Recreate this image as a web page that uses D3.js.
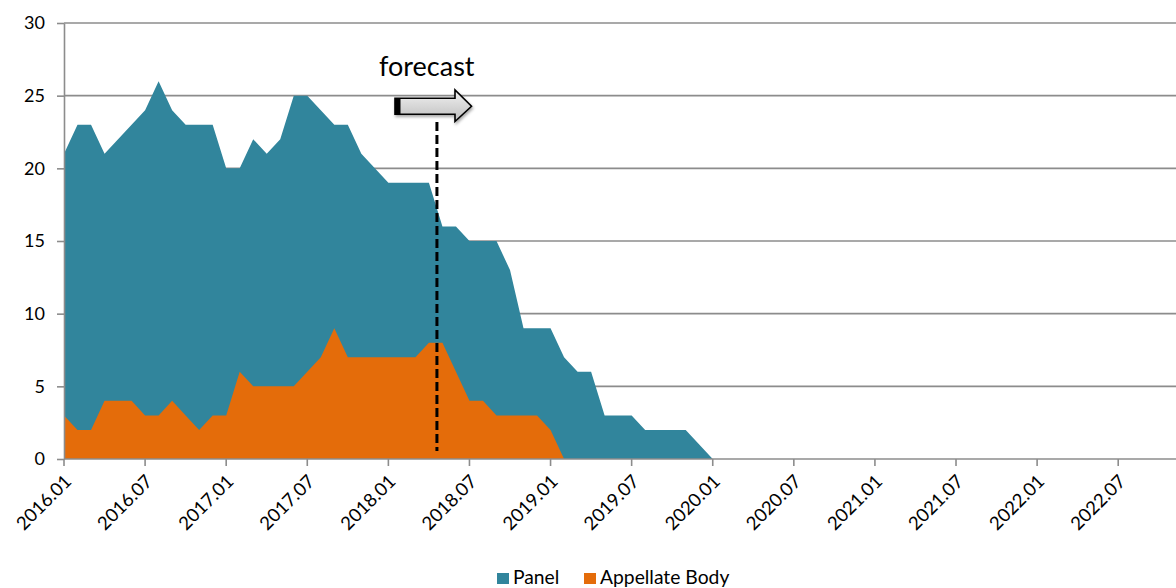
<!DOCTYPE html>
<html>
<head>
<meta charset="utf-8">
<script src="https://cdn.jsdelivr.net/npm/d3@7"></script>
<style>
  html, body { margin: 0; padding: 0; background: #fff; }
  svg { display: block; font-family: Lato, "Open Sans", sans-serif; }
</style>
</head>
<body>
<svg id="chart" width="1176" height="588"></svg>
<script>
// Monthly counts starting 2016.01 (one value per month)
const startYear = 2016;
const panelCounts = [21, 23, 23, 21, 22, 23, 24, 26, 24, 23, 23, 23,
                     20, 20, 22, 21, 22, 25, 25, 24, 23, 23, 21, 20,
                     19, 19, 19, 19, 16, 16, 15, 15, 15, 13, 9, 9,
                     9, 7, 6, 6, 3, 3, 3, 2, 2, 2, 2, 1,
                     0];
const appellateCounts = [3, 2, 2, 4, 4, 4, 3, 3, 4, 3, 2, 3,
                         3, 6, 5, 5, 5, 5, 6, 7, 9, 7, 7, 7,
                         7, 7, 7, 8, 8, 6, 4, 4, 3, 3, 3, 3,
                         2, 0];
const seriesNames = ["Panel", "Appellate Body"];
const seriesColors = ["#31859C", "#E46C0A"];
const xTickLabels = ["2016.01", "2016.07", "2017.01", "2017.07", "2018.01", "2018.07",
                     "2019.01", "2019.07", "2020.01", "2020.07", "2021.01", "2021.07",
                     "2022.01", "2022.07"];
const yTickValues = [0, 5, 10, 15, 20, 25, 30];
const forecastLabel = "forecast";
const forecastStart = "2018.05";

// month label "YYYY.MM" -> index from the first month
const monthIndex = s => {
  const [yr, m] = s.split(".").map(Number);
  return (yr - startYear) * 12 + (m - 1);
};

const svg = d3.select("#chart");
const W = 1176;
const plotLeft = 64, plotBottom = 459, plotTop = 23;

const x = d3.scaleLinear().domain([0, 78]).range([plotLeft, 1118.2]);
const y = d3.scaleLinear().domain([0, 30]).range([plotBottom, plotTop]);

// horizontal gridlines
svg.append("g")
  .selectAll("line")
  .data(yTickValues.filter(v => v > 0))
  .join("line")
  .attr("x1", plotLeft).attr("x2", W)
  .attr("y1", d => y(d)).attr("y2", d => y(d))
  .attr("stroke", "#8c8c8c").attr("stroke-width", 1.6);

// areas: Panel behind, Appellate Body in front
const area = d3.area()
  .x((d, i) => x(i))
  .y0(y(0))
  .y1(d => y(d));

svg.append("path")
  .datum(panelCounts)
  .attr("d", area)
  .attr("fill", seriesColors[0]);

svg.append("path")
  .datum(appellateCounts)
  .attr("d", area)
  .attr("fill", seriesColors[1]);

// y axis
const yAxis = svg.append("g")
  .attr("transform", `translate(${plotLeft},0)`)
  .call(d3.axisLeft(y).tickValues(yTickValues).tickSize(7).tickPadding(12).tickSizeOuter(0));
yAxis.select(".domain").attr("stroke", "#8c8c8c").attr("stroke-width", 1.6);
yAxis.selectAll(".tick line").attr("stroke", "#8c8c8c").attr("stroke-width", 1.6);
yAxis.selectAll(".tick text")
  .attr("font-size", 18).attr("fill", "#000")
  .attr("font-family", "Lato, 'Open Sans', sans-serif");

// x axis
const xAxisG = svg.append("g").attr("transform", `translate(0,${plotBottom})`);
xAxisG.append("line")
  .attr("x1", plotLeft).attr("x2", W).attr("y1", 0).attr("y2", 0)
  .attr("stroke", "#8c8c8c").attr("stroke-width", 1.6);
const xt = xAxisG.selectAll("g.tick")
  .data(xTickLabels)
  .join("g")
  .attr("class", "tick")
  .attr("transform", d => `translate(${x(monthIndex(d))},0)`);
xt.append("line")
  .attr("y1", 0).attr("y2", 7)
  .attr("stroke", "#8c8c8c").attr("stroke-width", 1.6);
xt.append("text")
  .attr("transform", "translate(4,19) rotate(-45)")
  .attr("text-anchor", "end")
  .attr("dy", "0.35em")
  .attr("font-size", 18.5)
  .attr("fill", "#000")
  .text(d => d);

// forecast marker: dashed line
const fx = x(monthIndex(forecastStart)) - 5.5;
svg.append("line")
  .attr("x1", fx).attr("x2", fx)
  .attr("y1", 122).attr("y2", 451)
  .attr("stroke", "#000").attr("stroke-width", 3)
  .attr("stroke-dasharray", "9,4");

// forecast arrow
const defs = svg.append("defs");
const grad = defs.append("linearGradient")
  .attr("id", "arrowFill").attr("x1", 0).attr("x2", 0).attr("y1", 0).attr("y2", 1);
grad.append("stop").attr("offset", "0%").attr("stop-color", "#f2f2f2");
grad.append("stop").attr("offset", "100%").attr("stop-color", "#bdbdbd");
const shadow = defs.append("filter").attr("id", "arrowShadow")
  .attr("x", "-20%").attr("y", "-40%").attr("width", "140%").attr("height", "180%");
shadow.append("feDropShadow")
  .attr("dx", 1).attr("dy", 2).attr("stdDeviation", 1.6)
  .attr("flood-color", "#000").attr("flood-opacity", 0.35);

const ax0 = 395, axHead = 455, axTip = 471.5;
const ayTop = 98.3, ayBot = 114.3, ayHeadTop = 90, ayHeadBot = 121.5;
const ayMid = (ayTop + ayBot) / 2;
const arrowPath = d3.path();
arrowPath.moveTo(ax0, ayTop);
arrowPath.lineTo(axHead, ayTop);
arrowPath.lineTo(axHead, ayHeadTop);
arrowPath.lineTo(axTip, ayMid);
arrowPath.lineTo(axHead, ayHeadBot);
arrowPath.lineTo(axHead, ayBot);
arrowPath.lineTo(ax0, ayBot);
arrowPath.closePath();
svg.append("path")
  .attr("d", arrowPath.toString())
  .attr("fill", "url(#arrowFill)")
  .attr("stroke", "#000").attr("stroke-width", 1.6)
  .attr("stroke-linejoin", "miter")
  .attr("filter", "url(#arrowShadow)");
svg.append("rect")
  .attr("x", ax0).attr("y", ayTop)
  .attr("width", 5.5).attr("height", ayBot - ayTop)
  .attr("fill", "#000");

svg.append("text")
  .attr("x", 379).attr("y", 76)
  .attr("font-size", 27)
  .attr("fill", "#000")
  .text(forecastLabel);

// legend
const legend = svg.append("g").attr("transform", "translate(0,584)");
const legendItems = [
  { name: seriesNames[0], color: seriesColors[0], x: 497 },
  { name: seriesNames[1], color: seriesColors[1], x: 584 }
];
const li = legend.selectAll("g")
  .data(legendItems)
  .join("g")
  .attr("transform", d => `translate(${d.x},0)`);
li.append("rect")
  .attr("x", 0).attr("y", -11).attr("width", 12).attr("height", 11)
  .attr("fill", d => d.color);
li.append("text")
  .attr("x", 16).attr("y", 0)
  .attr("font-size", 19.3)
  .attr("fill", "#000")
  .text(d => d.name);
</script>
</body>
</html>
